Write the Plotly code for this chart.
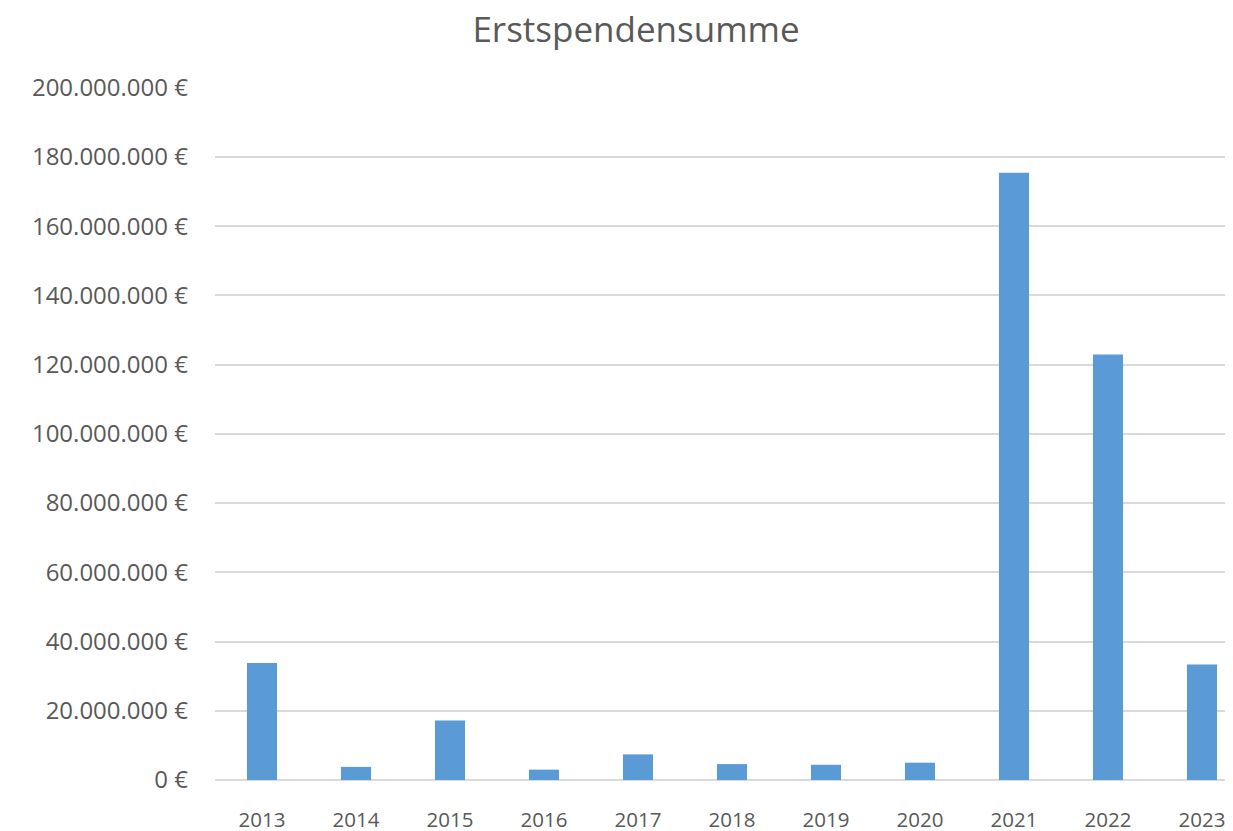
import plotly.graph_objects as go

# Erstspendensumme per year (EUR)
years = ["2013", "2014", "2015", "2016", "2017", "2018",
         "2019", "2020", "2021", "2022", "2023"]
amounts = [33_800_000, 3_800_000, 17_200_000, 3_000_000, 7_400_000, 4_600_000,
           4_400_000, 5_000_000, 175_400_000, 122_900_000, 33_400_000]

tick_vals = list(range(0, 200_000_001, 20_000_000))
tick_text = [f"{v:,}".replace(",", ".") + " €" for v in tick_vals]

FONT = "Open Sans"
GREY = "#595959"
GRID = "#D9D9D9"

fig = go.Figure(
    go.Bar(
        x=years,
        y=amounts,
        marker=dict(color="#5B9BD5", line=dict(width=0)),
        hoverinfo="skip",
    )
)

# the page body has an 8px margin, so the figure is offset by 8px
fig.update_layout(
    width=1225,
    height=823,
    paper_bgcolor="white",
    plot_bgcolor="white",
    bargap=0.68,
    showlegend=False,
    font=dict(family=FONT, color=GREY),
    margin=dict(l=207, r=0, t=79, b=51, autoexpand=False),
    title=dict(
        text="Erstspendensumme",
        font=dict(family=FONT, size=35, color=GREY),
        x=0.5127,
        xanchor="center",
        y=1 - 22 / 823,
        yanchor="middle",
    ),
)

fig.update_xaxes(
    type="category",
    range=[-0.5, 10.33],
    automargin=False,
    showgrid=False,
    showline=False,
    ticks="",
    ticklabelstandoff=25,
    tickfont=dict(family=FONT, size=20.5, color=GREY),
)

# range nudged a hair above 200M so the top gridline is drawn
fig.update_yaxes(
    range=[0, 200_000_000 * 1.001],
    automargin=False,
    tickmode="array",
    tickvals=tick_vals,
    ticktext=tick_text,
    showgrid=True,
    gridcolor=GRID,
    gridwidth=1.5,
    zeroline=True,
    zerolinecolor=GRID,
    zerolinewidth=1.5,
    showline=False,
    ticks="",
    ticklabelstandoff=26,
    tickfont=dict(family=FONT, size=24, color=GREY),
)

fig.write_html("out.html")
